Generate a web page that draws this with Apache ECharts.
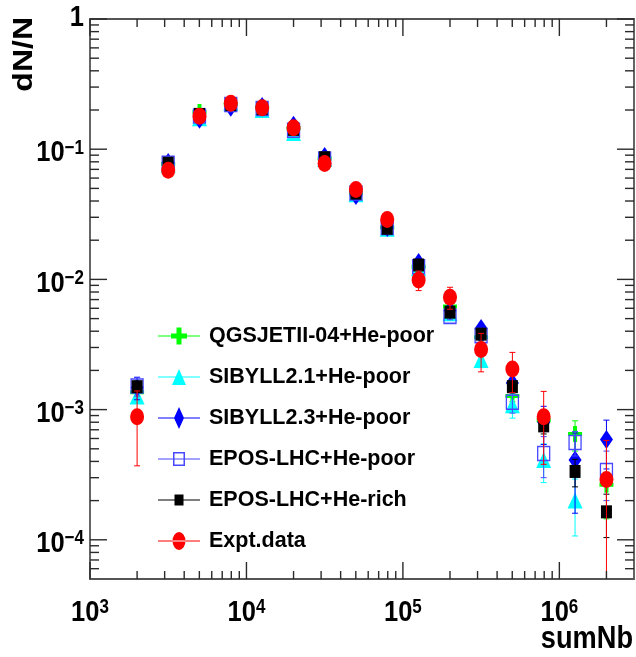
<!DOCTYPE html>
<html>
<head>
<meta charset="utf-8">
<script src="https://cdn.jsdelivr.net/npm/echarts@6/dist/echarts.min.js"></script>
<style>
  html, body { margin: 0; padding: 0; background: #fff; }
  #chart { width: 636px; height: 657px; }
</style>
</head>
<body>
<div id="chart"></div>
<script>
// Bin centres in sumNb (0.2 steps in log10)
const sumNb = [2.0e3, 3.16e3, 5.01e3, 7.94e3, 1.26e4, 2.0e4, 3.16e4, 5.01e4, 7.94e4,
               1.26e5, 2.0e5, 3.16e5, 5.01e5, 7.94e5, 1.26e6, 2.0e6];

// dN/N per model
const qgsjetHePoor   = [1.36e-3, 0.077, 0.193, 0.222, 0.210, 0.145, 0.085, 0.046, 0.0250, 0.0125, 0.0062, 0.0036, 1.27e-3, 8.3e-4, 6.5e-4, 2.65e-4];
const qgsjetErr      = [1.0e-4, 0.002, 0.004, 0.004, 0.004, 0.003, 0.002, 0.0012, 0.0008, 0.0005, 0.0003, 0.0002, 1.2e-4, 1.0e-4, 1.7e-4, 1.2e-4];

const sibyll21HePoor = [1.26e-3, 0.076, 0.173, 0.227, 0.200, 0.133, 0.084, 0.045, 0.0245, 0.0122, 0.0055, 0.0024, 1.08e-3, 4.1e-4, 2.0e-4, null];
const sibyll21Err    = [1.0e-4, 0.002, 0.004, 0.004, 0.004, 0.003, 0.002, 0.0012, 0.0008, 0.0005, 0.0004, 0.0003, 2.2e-4, 1.35e-4, 9.3e-5, null];

const sibyll23HePoor = [1.48e-3, 0.079, 0.170, 0.210, 0.213, 0.153, 0.088, 0.044, 0.0250, 0.0135, 0.0058, 0.0042, 1.6e-3, 8.0e-4, 4.1e-4, 5.9e-4];
const sibyll23Err    = [2.9e-4, 0.002, 0.004, 0.004, 0.004, 0.003, 0.002, 0.0012, 0.0008, 0.0006, 0.0004, 0.0003, 1.1e-4, 2.6e-4, 2.5e-4, 2.4e-4];

const eposHePoor     = [1.52e-3, 0.078, 0.180, 0.220, 0.205, 0.140, 0.084, 0.046, 0.0250, 0.0125, 0.0052, 0.0037, 1.14e-3, 4.6e-4, 5.6e-4, 3.4e-4];
const eposHePoorErr  = [2.5e-4, 0.002, 0.004, 0.004, 0.004, 0.003, 0.002, 0.0012, 0.0008, 0.0005, 0.0003, 0.0003, 2.0e-4, 1.6e-4, 1.2e-4, 1.4e-4];

const eposHeRich     = [1.50e-3, 0.078, 0.185, 0.220, 0.205, 0.142, 0.086, 0.046, 0.0247, 0.0129, 0.0056, 0.0038, 1.5e-3, 7.5e-4, 3.35e-4, 1.64e-4];
const eposHeRichErr  = [1.0e-4, 0.002, 0.004, 0.004, 0.004, 0.003, 0.002, 0.0012, 0.0008, 0.0005, 0.0003, 0.0003, 1.5e-4, 1.0e-4, 8.0e-5, 6.0e-5];

const exptData       = [8.8e-4, 0.069, 0.179, 0.225, 0.208, 0.146, 0.0776, 0.049, 0.0288, 0.0099, 0.0073, 0.0029, 2.05e-3, 8.8e-4, null, 2.9e-4];
const exptErr        = [5.1e-4, 0.002, 0.005, 0.006, 0.006, 0.004, 0.003, 0.002, 0.001, 0.0017, 0.0014, 9.5e-4, 7.0e-4, 5.0e-4, null, 2.9e-4];

// Axis decades that carry a label
const xLabelExps = [3, 4, 5, 6];
const yLabelExps = [0, -1, -2, -3, -4];

const X_MIN = 1e3, X_MAX = 3e6, Y_MIN = 5e-5, Y_MAX = 1;
const FONT = "'Liberation Sans', Arial, Helvetica, sans-serif";
const TICK = '#2a2a2a';
const SQUEEZE = 0.85;

// Marker shapes
const PLUS = 'path://M5,0 H9 V6 H14 V10 H9 V16 H5 V10 H0 V6 H5 Z';
const ICON_FRAME = 'M0 0 M46 24 M0 11.4 H42 V12.6 H0 Z ';
const legendIcons = {
  plus:    'path://' + ICON_FRAME + 'M18.5 3.5 H23.5 V9.5 H29 V14.5 H23.5 V20.5 H18.5 V14.5 H13 V9.5 H18.5 Z',
  tri:     'path://' + ICON_FRAME + 'M21 4 L28 20 L14 20 Z',
  diamond: 'path://' + ICON_FRAME + 'M21 1 L26 12 L21 23 L16 12 Z',
  openSq:  'path://' + ICON_FRAME + 'M15 5 H27 V19 H15 Z M16.5 6.5 V17.5 H25.5 V6.5 Z',
  fullSq:  'path://' + ICON_FRAME + 'M16.5 6.5 H25.5 V17.5 H16.5 Z',
  circle:  'path://' + ICON_FRAME + 'M14.5 12 A6.5 9 0 1 0 27.5 12 A6.5 9 0 1 0 14.5 12 Z'
};

const models = [
  { name: 'QGSJETII-04+He-poor', y: qgsjetHePoor,   err: qgsjetErr,     color: '#00ff00', symbol: PLUS,       size: [14, 16], icon: legendIcons.plus },
  { name: 'SIBYLL2.1+He-poor',   y: sibyll21HePoor, err: sibyll21Err,   color: '#00ffff', symbol: 'triangle', size: [15, 16], icon: legendIcons.tri },
  { name: 'SIBYLL2.3+He-poor',   y: sibyll23HePoor, err: sibyll23Err,   color: '#0000ff', symbol: 'diamond',  size: [13, 19], icon: legendIcons.diamond },
  { name: 'EPOS-LHC+He-poor',    y: eposHePoor,     err: eposHePoorErr, color: '#4848ff', symbol: 'rect',     size: [12, 14], icon: legendIcons.openSq, hollow: true },
  { name: 'EPOS-LHC+He-rich',    y: eposHeRich,     err: eposHeRichErr, color: '#000000', symbol: 'rect',     size: [11, 13], icon: legendIcons.fullSq },
  { name: 'Expt.data',           y: exptData,       err: exptErr,       color: '#ff0000', symbol: 'circle',   size: [14, 17], icon: legendIcons.circle }
];

function errorBars(color) {
  return function (params, api) {
    const x = api.value(0), v = api.value(1), e = api.value(2);
    const lo = Math.max(v - e, Y_MIN), hi = Math.min(v + e, Y_MAX);
    const pHi = api.coord([x, hi]), pLo = api.coord([x, lo]);
    const st = { stroke: color, lineWidth: 1 };
    const kids = [{ type: 'line', shape: { x1: pHi[0], y1: pHi[1], x2: pLo[0], y2: pLo[1] }, style: st }];
    if (v + e < Y_MAX) kids.push({ type: 'line', shape: { x1: pHi[0] - 3, y1: pHi[1], x2: pHi[0] + 3, y2: pHi[1] }, style: st });
    if (v - e > Y_MIN) kids.push({ type: 'line', shape: { x1: pLo[0] - 3, y1: pLo[1], x2: pLo[0] + 3, y2: pLo[1] }, style: st });
    return { type: 'group', children: kids };
  };
}

const series = [];
models.forEach((m, i) => {
  const pts = sumNb.map((x, k) => [x, m.y[k], m.err[k]]).filter(d => d[1] != null);
  series.push({
    type: 'custom', silent: true, z: 10 + 2 * i, clip: true,
    data: pts.filter(d => d[2] != null),
    renderItem: errorBars(m.color)
  });
  series.push({
    type: 'line', name: m.name, silent: true, z: 11 + 2 * i,
    data: pts.map(d => [d[0], d[1]]),
    symbol: m.symbol, symbolSize: m.size, showSymbol: true,
    lineStyle: { opacity: 0 },
    itemStyle: m.hollow
      ? { color: 'rgba(255,255,255,0)', borderColor: m.color, borderWidth: 1.4 }
      : { color: m.color, borderWidth: 0 },
    emphasis: { disabled: true },
    animation: false
  });
});

// Tick marks on all four frame sides, decade labels on bottom/left
const richLabel = {
  b: { fontSize: 30, fontWeight: 'bold', fontFamily: FONT, fill: '#000', lineHeight: 30 },
  s: { fontSize: 20, fontWeight: 'bold', fontFamily: FONT, fill: '#000', lineHeight: 20, verticalAlign: 'top' }
};
function decadeText(e) {
  if (e === 0) return '{b|1}';
  return '{b|10}{s|' + (e < 0 ? '\u2212' + (-e) : e) + '}';
}

const xTicks = [], yTicks = [];
for (let e = 3; e <= 6; e++) {
  xTicks.push([Math.pow(10, e), Y_MIN, xLabelExps.indexOf(e) >= 0 ? 1 : 0, e]);
  for (let k = 2; k <= 9; k++) {
    const v = k * Math.pow(10, e);
    if (v < X_MAX) xTicks.push([v, Y_MIN, -1, e]);
  }
}
for (let e = -5; e <= 0; e++) {
  const p = Math.pow(10, e);
  if (p >= Y_MIN) yTicks.push([X_MIN, p, yLabelExps.indexOf(e) >= 0 ? 1 : 0, e]);
  if (e < 0) {
    for (let k = 2; k <= 9; k++) {
      const v = k * p;
      if (v > Y_MIN && v < Y_MAX) yTicks.push([X_MIN, v, -1, e]);
    }
  }
}

series.push({
  type: 'custom', silent: true, z: 50, clip: false, data: xTicks,
  renderItem: function (params, api) {
    const cs = params.coordSys;
    const px = api.coord([api.value(0), Y_MIN])[0];
    const kind = api.value(2);
    const len = kind >= 0 ? 17 : 8;
    const top = cs.y, bottom = cs.y + cs.height;
    const st = { stroke: TICK, lineWidth: 1.4 };
    const kids = [
      { type: 'line', shape: { x1: px, y1: bottom, x2: px, y2: bottom - len }, style: st },
      { type: 'line', shape: { x1: px, y1: top, x2: px, y2: top + len }, style: st }
    ];
    if (kind === 1) {
      kids.push({
        type: 'text', x: px, y: bottom + 33.5, scaleX: SQUEEZE,
        style: { text: decadeText(api.value(3)), rich: richLabel, align: 'center', verticalAlign: 'middle', fill: '#000' }
      });
    }
    return { type: 'group', children: kids };
  }
});

series.push({
  type: 'custom', silent: true, z: 50, clip: false, data: yTicks,
  renderItem: function (params, api) {
    const cs = params.coordSys;
    const py = api.coord([X_MIN, api.value(1)])[1];
    const kind = api.value(2);
    const len = kind >= 0 ? 17 : 9;
    const left = cs.x, right = cs.x + cs.width;
    const st = { stroke: TICK, lineWidth: 1.4 };
    const kids = [
      { type: 'line', shape: { x1: left, y1: py, x2: left + len, y2: py }, style: st },
      { type: 'line', shape: { x1: right, y1: py, x2: right - len, y2: py }, style: st }
    ];
    if (kind === 1) {
      const e = api.value(3);
      kids.push({
        type: 'text', x: left - 6, y: py + (e === 0 ? -1.5 : 4), scaleX: SQUEEZE,
        style: { text: decadeText(e), rich: richLabel, align: 'right', verticalAlign: 'middle', fill: '#000' }
      });
    }
    return { type: 'group', children: kids };
  }
});

const chart = echarts.init(document.getElementById('chart'), null, { renderer: 'canvas' });
chart.setOption({
  animation: false,
  backgroundColor: '#ffffff',
  grid: { left: 90, top: 19, right: 2, bottom: 78, show: true, borderColor: '#555', borderWidth: 1.8, backgroundColor: 'transparent' },
  xAxis: {
    type: 'log', logBase: 10, min: X_MIN, max: X_MAX,
    axisLine: { show: false }, axisTick: { show: false }, axisLabel: { show: false }, splitLine: { show: false }
  },
  yAxis: {
    type: 'log', logBase: 10, min: Y_MIN, max: Y_MAX,
    axisLine: { show: false }, axisTick: { show: false }, axisLabel: { show: false }, splitLine: { show: false }
  },
  legend: {
    orient: 'vertical', left: 158, top: 324, padding: 0, itemGap: 17,
    itemWidth: 46, itemHeight: 24, selectedMode: false,
    textStyle: { fontSize: 21.5, fontWeight: 'bold', fontFamily: FONT, color: '#000' },
    data: models.map(m => ({ name: m.name, icon: m.icon, itemStyle: { color: m.color, borderWidth: 0, opacity: 1 } }))
  },
  graphic: [
    {
      type: 'text', x: 24, y: 17, rotation: Math.PI / 2, scaleY: 0.87, z: 100,
      style: { text: 'dN/N', fontSize: 32, fontWeight: 'bold', fontFamily: FONT, fill: '#000', align: 'right', verticalAlign: 'middle' }
    },
    {
      type: 'text', x: 633, y: 639, scaleX: SQUEEZE, z: 100,
      style: { text: 'sumNb', fontSize: 32, fontWeight: 'bold', fontFamily: FONT, fill: '#000', align: 'right', verticalAlign: 'middle' }
    }
  ],
  series: series
});
</script>
</body>
</html>
